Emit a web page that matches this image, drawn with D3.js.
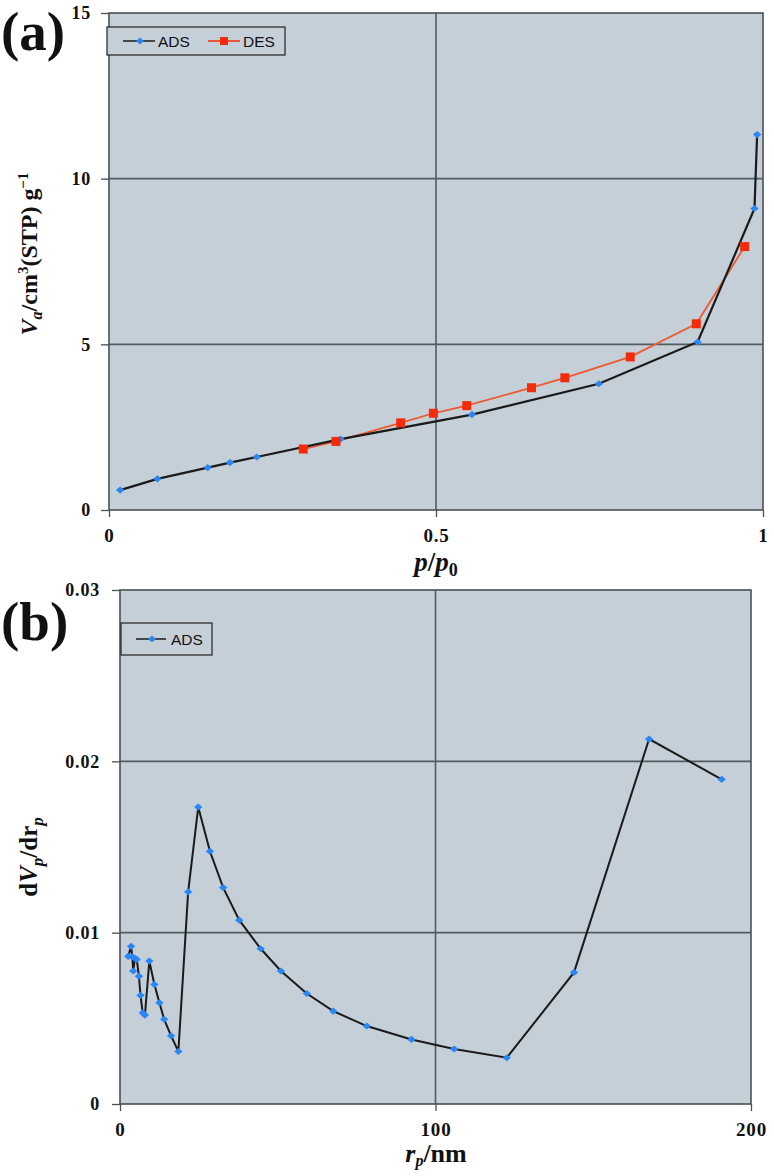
<!DOCTYPE html>
<html><head><meta charset="utf-8">
<script src="https://cdn.jsdelivr.net/npm/d3@7"></script>
<style>
html,body{margin:0;padding:0;background:#fff;}
svg{display:block;}
</style></head>
<body>
<svg id="c" width="774" height="1176"></svg>
<script>
// ---- Panel (a) data: N2 isotherm ----
const adsP = [0.017, 0.074, 0.151, 0.185, 0.226, 0.354, 0.555, 0.749, 0.900, 0.987, 0.991];
const adsV = [0.60, 0.94, 1.28, 1.43, 1.60, 2.14, 2.88, 3.81, 5.07, 9.10, 11.33];
const desP = [0.297, 0.347, 0.446, 0.496, 0.547, 0.646, 0.697, 0.797, 0.898, 0.972];
const desV = [1.84, 2.07, 2.63, 2.92, 3.15, 3.69, 3.99, 4.62, 5.62, 7.95];
const aXTicks = [0, 0.5, 1];
const aXTickLabels = ["0", "0.5", "1"];
const aYTicks = [0, 5, 10, 15];
const aYTickLabels = ["0", "5", "10", "15"];

// ---- Panel (b) data: pore size distribution ----
const bR = [2.6, 3.5, 3.9, 4.2, 4.75, 5.3, 6.0, 6.5, 7.2, 7.9, 9.3, 10.9, 12.5, 14.0, 16.2, 18.5,
            21.6, 24.8, 28.5, 32.7, 37.8, 44.6, 51.0, 59.2, 67.6, 78.2, 92.4, 105.9, 122.6, 143.9, 167.7, 190.7];
const bV = [0.00862, 0.0092, 0.00859, 0.00776, 0.0085, 0.00844, 0.00746, 0.00634, 0.00532, 0.00519,
            0.00834, 0.00698, 0.00591, 0.00494, 0.00398, 0.00307, 0.01238, 0.01733, 0.01475, 0.01263,
            0.01073, 0.00906, 0.00776, 0.00645, 0.00542, 0.00455, 0.00377, 0.00321, 0.0027, 0.00768,
            0.0213, 0.01895];
const bXTicks = [0, 100, 200];
const bXTickLabels = ["0", "100", "200"];
const bYTicks = [0, 0.01, 0.02, 0.03];
const bYTickLabels = ["0", "0.01", "0.02", "0.03"];

const svg = d3.select("#c");
const BG = "#c5cfd7", GRID = "#4f5d62", BORDER = "#4a5054";
const BLUE = "#2a86f3", RED = "#f42a0c", REDLINE = "#ee5a30", BLACK = "#1a1a1a";
const SERIF = "'Liberation Serif','Times New Roman',serif";
const SANS = "'Liberation Sans',Arial,sans-serif";

function panel(cfg) {
  const g = svg.append("g");
  const x = d3.scaleLinear().domain(cfg.xDom).range([cfg.left, cfg.right]);
  const y = d3.scaleLinear().domain(cfg.yDom).range([cfg.bottom, cfg.top]);
  g.append("rect").attr("x", cfg.left).attr("y", cfg.top)
    .attr("width", cfg.right - cfg.left).attr("height", cfg.bottom - cfg.top).attr("fill", BG);
  g.selectAll(".hg").data(cfg.yTicks.slice(1, -1)).join("line")
    .attr("x1", cfg.left).attr("x2", cfg.right).attr("y1", d => y(d)).attr("y2", d => y(d))
    .attr("stroke", GRID).attr("stroke-width", 1.6);
  g.selectAll(".vg").data(cfg.xTicks.slice(1, -1)).join("line")
    .attr("y1", cfg.top).attr("y2", cfg.bottom).attr("x1", d => x(d)).attr("x2", d => x(d))
    .attr("stroke", GRID).attr("stroke-width", 1.6);
  g.append("rect").attr("x", cfg.left).attr("y", cfg.top)
    .attr("width", cfg.right - cfg.left).attr("height", cfg.bottom - cfg.top)
    .attr("fill", "none").attr("stroke", BORDER).attr("stroke-width", 1.6);
  const yAx = g.append("g").attr("transform", `translate(${cfg.left},0)`)
    .call(d3.axisLeft(y).tickValues(cfg.yTicks).tickFormat((d, i) => cfg.yTickLabels[i]).tickSize(8).tickPadding(cfg.yPad));
  yAx.attr("font-family", null).attr("font-size", null);
  yAx.select(".domain").remove();
  yAx.selectAll("line").attr("stroke", BORDER).attr("stroke-width", 1.3);
  yAx.selectAll("text").style("font-family", SERIF).style("font-weight", "bold").style("font-size", "18px")
    .style("letter-spacing", "0.8px").attr("fill", "#111");
  const xAx = g.append("g").attr("transform", `translate(0,${cfg.bottom})`)
    .call(d3.axisBottom(x).tickValues(cfg.xTicks).tickFormat((d, i) => cfg.xTickLabels[i]).tickSize(7).tickPadding(12));
  xAx.attr("font-family", null).attr("font-size", null);
  xAx.select(".domain").remove();
  xAx.selectAll("line").attr("stroke", BORDER).attr("stroke-width", 1.3);
  xAx.selectAll("text").style("font-family", SERIF).style("font-weight", "bold").style("font-size", "19px")
    .style("letter-spacing", "0.8px").attr("fill", "#111");
  return {g, x, y};
}

function diamonds(g, xs, ys, x, y, r) {
  g.selectAll(null).data(xs).join("path")
    .attr("d", (d, i) => { const cx = x(d), cy = y(ys[i]);
      return `M${cx},${cy - r * 0.85}L${cx + r},${cy}L${cx},${cy + r * 0.85}L${cx - r},${cy}Z`; })
    .attr("fill", BLUE);
}

// ===== Panel (a) =====
const A = panel({left: 109, right: 763, top: 13, bottom: 510, xDom: [0, 1], yDom: [0, 15],
  xTicks: aXTicks, xTickLabels: aXTickLabels, yTicks: aYTicks, yTickLabels: aYTickLabels, yPad: 10});
const lineA = d3.line().x(d => A.x(d[0])).y(d => A.y(d[1]));
A.g.append("path").attr("d", lineA(desP.map((p, i) => [p, desV[i]])))
  .attr("fill", "none").attr("stroke", REDLINE).attr("stroke-width", 1.8);
A.g.append("path").attr("d", lineA(adsP.map((p, i) => [p, adsV[i]])))
  .attr("fill", "none").attr("stroke", BLACK).attr("stroke-width", 2.2);
diamonds(A.g, adsP, adsV, A.x, A.y, 4.2);
A.g.selectAll(null).data(desP).join("rect")
  .attr("x", d => A.x(d) - 4.5).attr("y", (d, i) => A.y(desV[i]) - 4.5)
  .attr("width", 9).attr("height", 9).attr("fill", RED);

// legend (a)
const LA = svg.append("g");
LA.append("rect").attr("x", 107).attr("y", 27).attr("width", 178).attr("height", 28)
  .attr("fill", BG).attr("stroke", "#222").attr("stroke-width", 1.2);
LA.append("line").attr("x1", 123).attr("x2", 155).attr("y1", 41).attr("y2", 41).attr("stroke", BLACK).attr("stroke-width", 1.5);
LA.append("path").attr("d", "M140,37.5L144,41L140,44.5L136,41Z").attr("fill", BLUE);
LA.append("text").attr("x", 158).attr("y", 46.5).text("ADS").attr("font-family", SANS).attr("font-size", 15.5).attr("fill", "#111");
LA.append("line").attr("x1", 208).attr("x2", 240).attr("y1", 41).attr("y2", 41).attr("stroke", RED).attr("stroke-width", 1.5);
LA.append("rect").attr("x", 220).attr("y", 37).attr("width", 8).attr("height", 8).attr("fill", RED);
LA.append("text").attr("x", 243).attr("y", 46.5).text("DES").attr("font-family", SANS).attr("font-size", 15.5).attr("fill", "#111");

// panel label (a)
svg.append("text").attr("x", 1).attr("y", 50).text("(a)")
  .attr("font-family", SERIF).attr("font-weight", "bold").attr("font-size", 55).attr("fill", "#111");

// x label (a)
const xla = svg.append("text").attr("x", 436).attr("y", 571).attr("text-anchor", "middle")
  .attr("font-family", SERIF).attr("font-weight", "bold").attr("font-size", 27).attr("fill", "#111");
xla.append("tspan").attr("font-style", "italic").text("p");
xla.append("tspan").text("/");
xla.append("tspan").attr("font-style", "italic").text("p");
xla.append("tspan").attr("font-size", 18).attr("dy", 5).text("0");

// y label (a)
const yla = svg.append("text").attr("transform", "translate(37,254) rotate(-90)").attr("text-anchor", "middle")
  .attr("font-family", SERIF).attr("font-weight", "bold").attr("font-size", 24).attr("fill", "#111");
yla.append("tspan").attr("font-style", "italic").text("V");
yla.append("tspan").attr("font-style", "italic").attr("font-size", 16).attr("dy", 5).text("a");
yla.append("tspan").attr("dy", -5).text("/cm");
yla.append("tspan").attr("font-size", 15).attr("dy", -9).text("3");
yla.append("tspan").attr("dy", 9).text("(STP) g");
yla.append("tspan").attr("font-size", 15).attr("dy", -9).text("−1");

// ===== Panel (b) =====
const B = panel({left: 120, right: 751, top: 590, bottom: 1104, xDom: [0, 200], yDom: [0, 0.03],
  xTicks: bXTicks, xTickLabels: bXTickLabels, yTicks: bYTicks, yTickLabels: bYTickLabels, yPad: 12});
const lineB = d3.line().x(d => B.x(d[0])).y(d => B.y(d[1]));
B.g.append("path").attr("d", lineB(bR.map((r, i) => [r, bV[i]])))
  .attr("fill", "none").attr("stroke", BLACK).attr("stroke-width", 2);
diamonds(B.g, bR, bV, B.x, B.y, 4.2);

// legend (b)
const LB = svg.append("g");
LB.append("rect").attr("x", 121).attr("y", 623).attr("width", 91).attr("height", 32)
  .attr("fill", BG).attr("stroke", "#222").attr("stroke-width", 1.2);
LB.append("line").attr("x1", 136).attr("x2", 166).attr("y1", 639).attr("y2", 639).attr("stroke", BLACK).attr("stroke-width", 1.5);
LB.append("path").attr("d", "M152,635.5L156,639L152,642.5L148,639Z").attr("fill", BLUE);
LB.append("text").attr("x", 171).attr("y", 644.5).text("ADS").attr("font-family", SANS).attr("font-size", 15.5).attr("fill", "#111");

// panel label (b)
svg.append("text").attr("x", 1).attr("y", 640).text("(b)")
  .attr("font-family", SERIF).attr("font-weight", "bold").attr("font-size", 55).attr("fill", "#111");

// x label (b)
const xlb = svg.append("text").attr("x", 436).attr("y", 1162).attr("text-anchor", "middle")
  .attr("font-family", SERIF).attr("font-weight", "bold").attr("font-size", 26).attr("fill", "#111");
xlb.append("tspan").attr("font-style", "italic").text("r");
xlb.append("tspan").attr("font-style", "italic").attr("font-size", 16).attr("dy", 4).text("p");
xlb.append("tspan").attr("dy", -4).text("/nm");

// y label (b)
const ylb = svg.append("text").attr("transform", "translate(37,857) rotate(-90)").attr("text-anchor", "middle")
  .attr("font-family", SERIF).attr("font-weight", "bold").attr("font-size", 25).attr("fill", "#111");
ylb.append("tspan").text("d");
ylb.append("tspan").attr("font-style", "italic").text("V");
ylb.append("tspan").attr("font-style", "italic").attr("font-size", 17).attr("dy", 6).text("p");
ylb.append("tspan").attr("dy", -6).text("/dr");
ylb.append("tspan").attr("font-style", "italic").attr("font-size", 17).attr("dy", 6).text("p");
</script>
</body></html>
